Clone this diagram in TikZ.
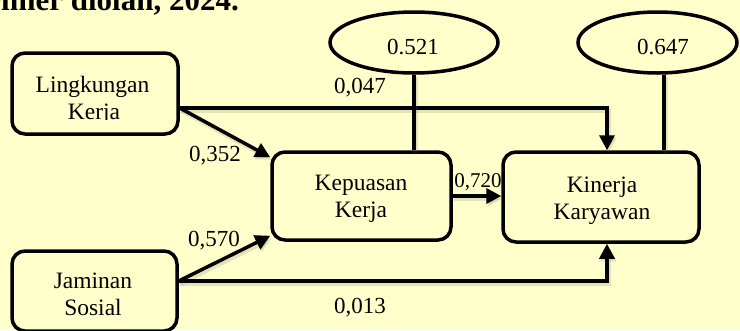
\documentclass[tikz,border=0pt]{standalone}
\usepackage{fontspec}
\setmainfont{Liberation Serif}
\usetikzlibrary{arrows.meta,shapes.geometric,calc}
\definecolor{paper}{RGB}{255,255,204}

\begin{document}
\begin{tikzpicture}[x=1pt,y=-1pt,
  box/.style={draw, line width=3.5pt, rounded corners=13pt, inner sep=0pt},
  oval/.style={draw, ellipse, line width=3.5pt, inner sep=0pt},
  word/.style={font=\fontsize{23.5}{27}\selectfont, anchor=base, inner sep=0pt},
  coef/.style={font=\fontsize{23}{27}\selectfont, anchor=base, inner sep=0pt},
  shadowed/.style={preaction={draw=black!60, opacity=0.18, line width=4.5pt,
      transform canvas={shift={(1.5pt,-2.5pt)}}}},
  link/.style={line width=3.5pt, shadowed},
  arr/.style={link, -{Triangle[length=15pt,width=15pt]}}
]
% page
\fill[paper] (0,0) rectangle (740,330);
\useasboundingbox (0,0) rectangle (740,330);
\clip (0,0) rectangle (740,330);

% caption line running off the top edge
\node[font=\bfseries\fontsize{31}{36}\selectfont, anchor=base east, inner sep=0pt]
  (src) at (239,10) {primer diolah, 2024.};

% variables
\node[box, minimum width=166pt, minimum height=81pt] (lk) at (95,93.5) {};
\node[box, minimum width=165pt, minimum height=80pt] (js) at (94.5,291) {};
\node[box, minimum width=179pt, minimum height=88pt] (kp) at (361.5,196) {};
\node[box, minimum width=196pt, minimum height=90pt] (kk) at (601,197) {};
\node[oval, minimum width=168pt, minimum height=61pt] (e1) at (414,42.5) {};
\node[oval, minimum width=159pt, minimum height=61pt] (e2) at (657.5,42.5) {};

% variable names
\node[word] (lk1) at (92.5,92.5) {Lingkungan};
\begin{scope}
  \clip (20,80) rectangle (170,119.5);
  \node[word] (lk2) at (94,119) {Kerja};
\end{scope}
\node[word] (kp1) at (361,190) {Kepuasan};
\node[word] (kp2) at (361,217) {Kerja};
\node[word] (kk1) at (602,192) {Kinerja};
\node[word] (kk2) at (602,219) {Karyawan};
\node[word] (js1) at (93,288) {Jaminan};
\node[word] (js2) at (93,315.5) {Sosial};
\node[coef] (v1) at (413,54) {0.521};
\node[coef] (v2) at (663,54) {0.647};

% paths
\coordinate (lkout) at ([yshift=-14.5pt]lk.east);
\coordinate (jsout) at ([yshift=10pt]js.east);
\draw[arr] (lkout) -| ([xshift=6pt]kk.north);
\draw[arr] (lkout) -- ([yshift=-7pt]kp.north west);
\draw[arr] (jsout) -- ([yshift=6pt]kp.south west);
\draw[arr] (jsout) -| ([xshift=6pt]kk.south);
\draw[arr] (kp.east) -- (kp.east -| kk.west);
\draw[link] (e1.south) -- (e1.south |- kp.north);
\draw[link] ([xshift=6.5pt]e2.south) -- ([xshift=6.5pt]e2.south |- kk.north);

% path coefficients
\node[coef] (c047) at (360,93.5) {0,047};
\node[coef] (c352) at (215,161) {0,352};
\node[coef] (c570) at (214,246) {0,570};
\node[coef, font=\fontsize{21}{25}\selectfont] (c720) at (478,187) {0,720};
\node[coef] (c013) at (360,313) {0,013};
\end{tikzpicture}
\end{document}
